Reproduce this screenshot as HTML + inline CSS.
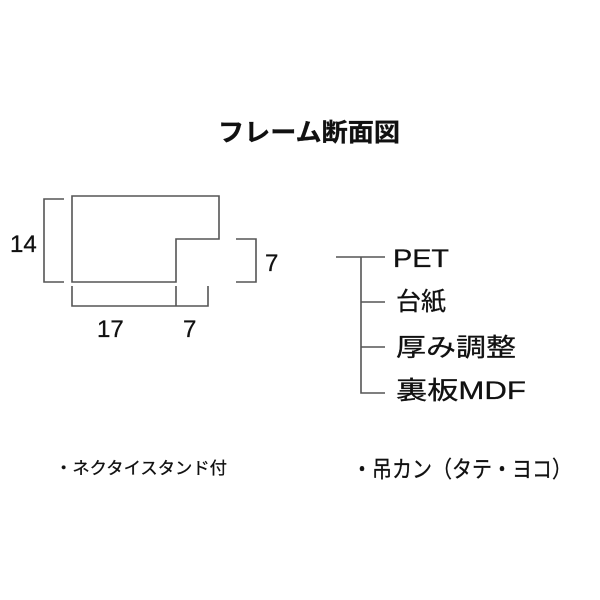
<!DOCTYPE html>
<html><head><meta charset="utf-8"><style>
html,body{margin:0;padding:0;background:#fff;width:600px;height:600px;overflow:hidden}
svg{display:block}
text{font-family:"Liberation Sans","Noto Sans CJK JP",sans-serif;fill:#111;stroke:#111;stroke-width:0.3}
</style></head><body>
<svg width="600" height="600" viewBox="0 0 600 600" xmlns="http://www.w3.org/2000/svg">
<text x="218" y="141" font-size="25" font-weight="bold" textLength="182" lengthAdjust="spacingAndGlyphs">フレーム断面図</text>
<g stroke="#555" stroke-width="1.6" fill="none">
<path d="M72 196 H219 V239 H176 V282 H72 Z"/>
<path d="M64 199 H44 V282 H64"/>
<path d="M236 239 H256 V282 H236"/>
<path d="M72 286 V306 H208 V286 M176 286 V306"/>
<path d="M336 257 H385 M361 257 V393 H385 M361 302 H385 M361 347 H385"/>
</g>
<text x="10" y="252" font-size="24">14</text>
<text x="265" y="271" font-size="24">7</text>
<text x="97" y="337" font-size="24">17</text>
<text x="183" y="337" font-size="24">7</text>
<text x="393" y="267" font-size="25" textLength="56" lengthAdjust="spacingAndGlyphs">PET</text>
<text x="396" y="310" font-size="25">台紙</text>
<text x="396" y="356" font-size="25" textLength="120" lengthAdjust="spacingAndGlyphs">厚み調整</text>
<text x="396" y="399" font-size="25" textLength="130" lengthAdjust="spacingAndGlyphs">裏板MDF</text>
<text x="55" y="474" font-size="17" textLength="172" lengthAdjust="spacingAndGlyphs">・ネクタイスタンド付</text>
<text x="352" y="477" font-size="23" textLength="220" lengthAdjust="spacingAndGlyphs">・吊カン（タテ・ヨコ）</text>
</svg>
</body></html>
